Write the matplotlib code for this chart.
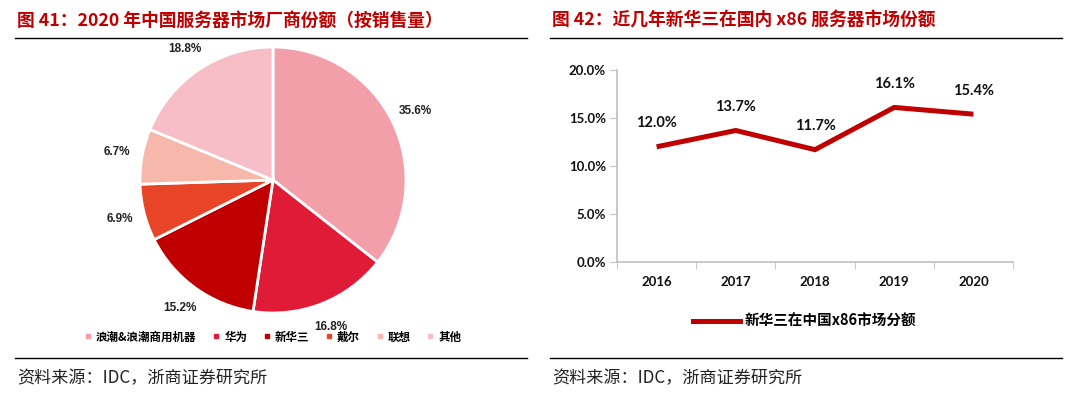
import matplotlib
matplotlib.use("Agg")
import matplotlib.pyplot as plt
from matplotlib.lines import Line2D
import numpy as np

plt.rcParams['font.family'] = ['Noto Sans CJK SC', 'DejaVu Sans']

# ---------------- data ----------------
pie_labels = ["浪潮&浪潮商用机器", "华为", "新华三", "戴尔", "联想", "其他"]
pie_values = [35.6, 16.8, 15.2, 6.9, 6.7, 18.8]
pie_colors = ["#F29FAA", "#DF1B38", "#C00000", "#E84427", "#F5B8AA", "#F7BEC8"]

years = ["2016", "2017", "2018", "2019", "2020"]
h3c_share = [0.120, 0.137, 0.117, 0.161, 0.154]
line_label = "新华三在中国x86市场分额"

title_left = "图 41：2020 年中国服务器市场厂商份额（按销售量）"
title_right = "图 42：近几年新华三在国内 x86 服务器市场份额"
source_text = "资料来源：IDC，浙商证券研究所"

W, H = 1080, 399
fig = plt.figure(figsize=(W / 100, H / 100), dpi=100)

def fx(x):
    return x / W

def fy(y):
    return 1 - y / H

title_color = "#C00000"

# titles
fig.text(fx(17), fy(21), title_left, color=title_color, fontsize=12.8,
         fontweight='bold', va='center', ha='left')
fig.text(fx(552), fy(21), title_right, color=title_color, fontsize=12.8,
         fontweight='bold', va='center', ha='left')

# horizontal rules
for (x0, x1) in [(15, 527), (550, 1062)]:
    for y in (38, 358):
        fig.add_artist(Line2D([fx(x0), fx(x1)], [fy(y), fy(y)], color='black',
                              lw=1.0, transform=fig.transFigure))

# source texts
fig.text(fx(17), fy(378), source_text, color="#222222", fontsize=12.3,
         va='center', ha='left')
fig.text(fx(552), fy(378), source_text, color="#222222", fontsize=12.3,
         va='center', ha='left')

# ---------------- pie ----------------
cx, cy, r = 273, 180, 133
axp = fig.add_axes([fx(cx - r), fy(cy + r), fx(2 * r), (2 * r) / H])
wedges, texts, autotexts = axp.pie(
    pie_values, colors=pie_colors, startangle=90, counterclock=False,
    autopct='%1.1f%%', pctdistance=1.19,
    wedgeprops=dict(edgecolor='white', linewidth=2))
for t in autotexts:
    t.set_fontsize(8.5)
    t.set_fontweight('bold')
    t.set_color('#222222')
    t.set_family(['Liberation Sans', 'DejaVu Sans'])
axp.set_xlim(-1, 1)
axp.set_ylim(-1, 1)
axp.set_aspect('equal')
axp.axis('off')

handles = [Line2D([0], [0], marker='s', linestyle='', markersize=2.8,
                  markerfacecolor=c, markeredgecolor=c) for c in pie_colors]
fig.legend(handles, pie_labels, loc='center', bbox_to_anchor=(fx(273), fy(337)),
           ncol=6, frameon=False, handlelength=0.6,
           handletextpad=0.4, columnspacing=1.4, prop={'size': 8.3, 'weight': 'bold'})

# ---------------- line chart ----------------
left, right, top, bottom = 617, 1013, 70, 262
axl = fig.add_axes([fx(left), fy(bottom), fx(right - left), (bottom - top) / H])
x = np.arange(len(years))
axl.plot(x, h3c_share, color='#C00000', lw=3.6, solid_capstyle='butt',
         solid_joinstyle='miter', label=line_label)
for xi, v in zip(x, h3c_share):
    axl.annotate(f"{v * 100:.1f}%", (xi, v), xytext=(0, 17), textcoords='offset points',
                 ha='center', va='center', fontsize=10.5, fontweight='bold',
                 family=['Lato', 'DejaVu Sans'], color='#111111')
axl.set_xlim(-0.5, len(years) - 0.5)
axl.set_ylim(0, 0.2)
axl.set_yticks([0, 0.05, 0.10, 0.15, 0.20])
axl.set_yticklabels([f"{v * 100:.1f}%" for v in [0, 0.05, 0.10, 0.15, 0.20]])
axl.set_xticks(x)
axl.set_xticklabels(years)
axl.set_xticks(np.arange(-0.5, len(years)), minor=True)
axl.tick_params(axis='x', which='major', length=0, pad=10)
axl.tick_params(axis='x', which='minor', length=5, color='#BFBFBF', direction='out')
axl.tick_params(axis='y', length=5, color='#BFBFBF', direction='out', pad=3)
for lab in axl.get_xticklabels() + axl.get_yticklabels():
    lab.set_fontweight('bold')
    lab.set_fontsize(9.5)
    lab.set_family(['Lato', 'DejaVu Sans'])
    lab.set_color('#111111')
for s in ['top', 'right']:
    axl.spines[s].set_visible(False)
for s in ['left', 'bottom']:
    axl.spines[s].set_color('#BFBFBF')
    axl.spines[s].set_linewidth(1.2)

fig.legend(handles=[Line2D([0], [0], color='#C00000', lw=3.6)], labels=[line_label],
           loc='center left', bbox_to_anchor=(fx(680), fy(321)), frameon=False,
           handlelength=3.2, handletextpad=0.3, prop={'size': 10.5, 'weight': 'bold'})

fig.savefig("out.png", dpi=100)
